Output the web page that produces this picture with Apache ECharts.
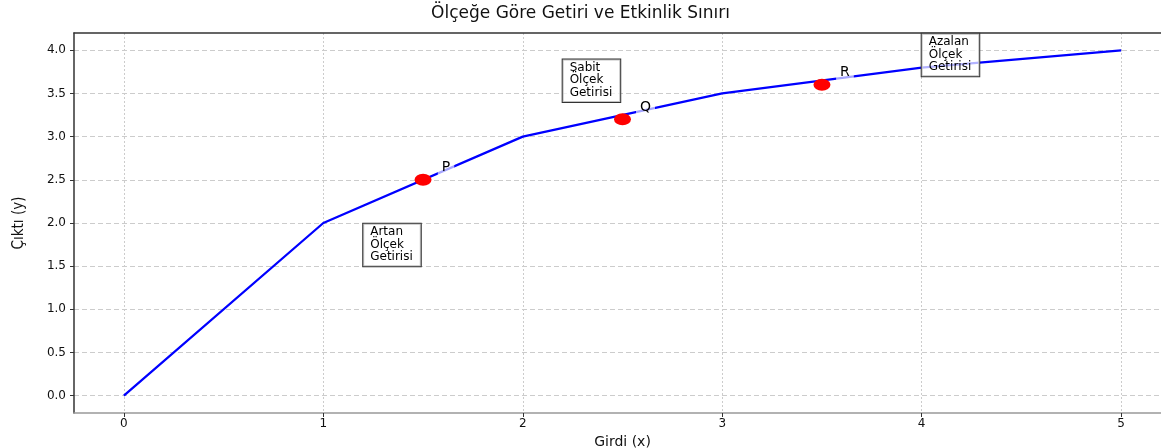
<!DOCTYPE html>
<html>
<head>
<meta charset="utf-8">
<script src="https://cdn.jsdelivr.net/npm/echarts@6/dist/echarts.min.js"></script>
<style>
  html, body { margin: 0; padding: 0; background: #fff; }
  #chart { width: 1161px; height: 448px; }
</style>
</head>
<body>
<div id="chart"></div>
<script>
// frontier
const inputs = [0, 1, 2, 3, 4, 5];
const outputs = [0, 2, 3, 3.5, 3.8, 4];

// marked points
const pointNames = ['P', 'Q', 'R'];
const pointX = [1.5, 2.5, 3.5];
const pointY = [2.5, 3.2, 3.6];

// zone notes (text anchor, bottom-left)
const zoneText = ['Artan\nÖlçek\nGetirisi', 'Sabit\nÖlçek\nGetirisi', 'Azalan\nÖlçek\nGetirisi'];
const zoneX = [1.2, 2.2, 4.0];
const zoneY = [1.5, 3.4, 3.7];

const xTicks = [0, 1, 2, 3, 4, 5];
const yTicks = [0, 0.5, 1, 1.5, 2, 2.5, 3, 3.5, 4];

const font = 'DejaVu Sans';
const chart = echarts.init(document.getElementById('chart'));

chart.setOption({
    animation: false,
    title: {
        text: 'Ölçeğe Göre Getiri ve Etkinlik Sınırı',
        left: 'center',
        top: 0,
        textStyle: { fontFamily: font, fontSize: 17, fontWeight: 'normal', color: '#111' }
    },
    grid: { left: 74, right: -10, top: 33, bottom: 35, outerBoundsMode: 'none', containLabel: false },
    xAxis: [{
        type: 'value',
        min: -0.25,
        max: 5.25,
        name: 'Girdi (x)',
        nameLocation: 'middle',
        nameGap: 14,
        nameTextStyle: { fontFamily: font, fontSize: 14, color: '#111', verticalAlign: 'top' },
        axisLine: { onZero: false, lineStyle: { color: '#999', width: 1.5 } },
        axisTick: { show: true, length: 4, customValues: xTicks, lineStyle: { color: '#333' } },
        axisLabel: { customValues: xTicks, fontFamily: font, fontSize: 12, color: '#111', margin: 5 },
        splitLine: { show: true, lineStyle: { color: '#ccc', type: [2, 2], width: 1 } }
    }, {
        type: 'value',
        position: 'top',
        min: -0.25,
        max: 5.25,
        axisLine: { show: true, onZero: false, lineStyle: { color: '#333', width: 1.5 } },
        axisTick: { show: false },
        axisLabel: { show: false },
        splitLine: { show: false }
    }],
    yAxis: {
        type: 'value',
        min: -0.2,
        max: 4.2,
        name: 'Çıktı (y)',
        nameLocation: 'middle',
        nameGap: 47,
        nameTextStyle: { fontFamily: 'DejaVu Sans Condensed, DejaVu Sans', fontSize: 15, color: '#111' },
        axisLine: { show: true, onZero: false, lineStyle: { color: '#333', width: 1.5 } },
        axisTick: { show: true, length: 4, customValues: yTicks, lineStyle: { color: '#333' } },
        axisLabel: {
            customValues: yTicks,
            fontFamily: font, fontSize: 12, color: '#111', margin: 8,
            formatter: v => v.toFixed(1)
        },
        splitLine: { show: true, lineStyle: { color: '#ccc', type: [5, 3], width: 1 } }
    },
    series: [{
        type: 'line',
        data: inputs.map((x, i) => [x, outputs[i]]),
        symbol: 'none',
        lineStyle: { color: '#0000ff', width: 2.3 },
        z: 2
    }, {
        type: 'scatter',
        data: pointX.map((x, i) => ({ value: [x, pointY[i]], name: pointNames[i] })),
        symbol: 'circle',
        symbolSize: [17, 12],
        itemStyle: { color: '#ff0000', opacity: 1 },
        label: {
            show: true,
            formatter: p => p.name,
            position: 'inside',
            offset: [23, -12],
            fontFamily: font,
            fontSize: 14,
            color: '#000',
            backgroundColor: 'rgba(255,255,255,0.65)',
            padding: [1, 4]
        },
        z: 3
    }, {
        type: 'scatter',
        data: zoneX.map((x, i) => ({ value: [x, zoneY[i]], name: zoneText[i] })),
        symbolSize: 0,
        silent: true,
        itemStyle: { opacity: 1 },
        label: {
            show: true,
            formatter: p => p.name,
            position: 'inside',
            align: 'left',
            verticalAlign: 'bottom',
            fontFamily: font,
            fontSize: 12,
            lineHeight: 12.5,
            color: '#000',
            backgroundColor: 'rgba(255,255,255,0.7)',
            borderColor: '#333',
            borderWidth: 1,
            padding: [2, 8, 3, 7]
        },
        z: 4
    }]
});
</script>
</body>
</html>
